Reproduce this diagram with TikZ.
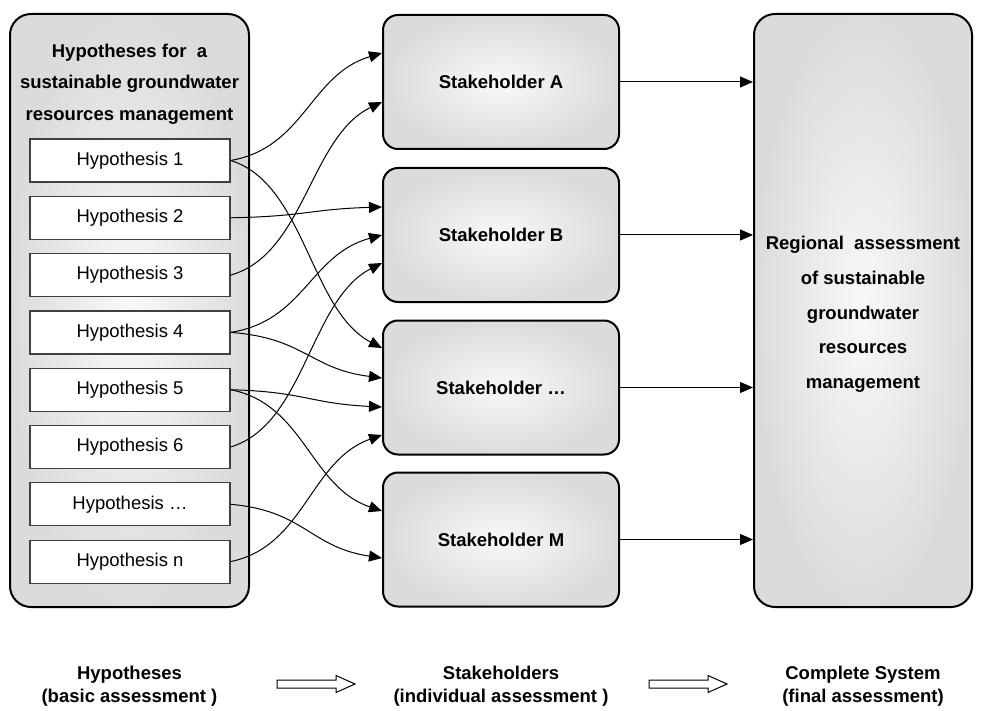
\documentclass[tikz,border=0pt]{standalone}
\usepackage{fontspec}
\setmainfont{Liberation Sans}
\usetikzlibrary{arrows.meta,calc}

% S-shaped connector from the east side of a hypothesis box to an entry point
\newcommand\linkcurve[2]{%
  \draw[link] let \p1=(#1.east), \p2=(#2) in
    (\p1) .. controls (\x1+74pt,{\y1+0.12*(\y2-\y1)})
             and (\x2-72pt,{\y2-0.2*(\y2-\y1)}) .. (\p2);}

\begin{document}
\begin{tikzpicture}[x=1pt,y=-1pt,
  panel/.style={draw=black, line width=2pt, inner color=gray!5, outer color=gray!28,
    minimum width=#1, inner sep=0pt},
  bigpanel/.style={panel=#1, rounded corners=21pt, minimum height=593pt},
  holder/.style={panel=236pt, rounded corners=15pt, minimum height=134pt,
    font=\bfseries\fontsize{18.5}{22}\selectfont},
  hypbox/.style={draw=black!75, line width=1.2pt, fill=white, minimum width=200pt,
    minimum height=43pt, inner sep=0pt, font=\fontsize{18.5}{22}\selectfont},
  link/.style={line width=1pt, -{Triangle[length=13pt,width=11pt]}},
  feed/.style={line width=1pt, -{Triangle[length=13pt,width=11pt]}},
  caption/.style={align=center, inner sep=0pt, font=\bfseries\fontsize{18.5}{23}\selectfont},
  hollow/.style={draw=black, line width=1pt, fill=white}
]
\useasboundingbox (0,0) rectangle (982,711);

% left column: hypotheses
\node[bigpanel=239pt] (H) at (129.5,310.5) {};
\node[align=center, inner sep=0pt, font=\bfseries\fontsize{18.5}{31.5}\selectfont]
  (Htitle) at (129.5,84) {Hypotheses for~ a\\sustainable groundwater\\resources management};
\foreach \i/\t in {1/1,2/2,3/3,4/4,5/5,6/6,7/…,8/n}
  \node[hypbox] (h\i) at (130,{160.5+57.3*(\i-1)}) {Hypothesis \t};

% middle column: stakeholders
\node[holder] (sA) at (501,82)    {Stakeholder A};
\node[holder] (sB) at (501,235)   {Stakeholder B};
\node[holder] (sC) at (501,387.5) {Stakeholder …};
\node[holder] (sM) at (501,539.5) {Stakeholder M};

% right column: complete system
\node[bigpanel=218pt] (R) at (863,310.5) {};
\node[align=center, inner sep=0pt, font=\bfseries\fontsize{18.5}{34.7}\selectfont]
  (Rtext) at (863,314.5) {Regional~ assessment\\of sustainable\\groundwater\\resources\\management};

% entry points on the stakeholder boxes
\coordinate (inA1) at ($(sA.west)+(0,-29)$);
\coordinate (inA2) at ($(sA.west)+(0,20)$);
\coordinate (inB1) at ($(sB.west)+(0,-28)$);
\coordinate (inB2) at ($(sB.west)+(0,0)$);
\coordinate (inB3) at ($(sB.west)+(0,28)$);
\coordinate (inC1) at ($(sC.west)+(0,-39.5)$);
\coordinate (inC2) at ($(sC.west)+(0,-9.5)$);
\coordinate (inC3) at ($(sC.west)+(0,19.5)$);
\coordinate (inC4) at ($(sC.west)+(0,47.5)$);
\coordinate (inM1) at ($(sM.west)+(0,-28.5)$);
\coordinate (inM2) at ($(sM.west)+(0,18.5)$);

% hypotheses to stakeholders
\linkcurve{h1}{inA1}
\linkcurve{h1}{inC1}
\linkcurve{h2}{inB1}
\linkcurve{h3}{inA2}
\linkcurve{h4}{inB2}
\linkcurve{h4}{inC2}
\linkcurve{h5}{inC3}
\linkcurve{h5}{inM1}
\linkcurve{h6}{inB3}
\linkcurve{h7}{inM2}
\linkcurve{h8}{inC4}

% stakeholders to the complete system
\foreach \s in {sA,sB,sC,sM}
  \draw[feed] (\s.east) -- (\s.east -| R.west);

% captions along the bottom
\node[caption] (c1) at (129.5,686.5) {Hypotheses\\(basic assessment )};
\node[caption] (c2) at (501,686.5)   {Stakeholders\\(individual assessment )};
\node[caption] (c3) at (863,686.5)   {Complete System\\(final assessment)};

% hollow block arrows between the captions
\foreach \x in {277,649}
  \draw[hollow] (\x,680) -- ++(59,0) -- ++(0,-4.5) -- ++(19,8.5) -- ++(-19,8.5)
    -- ++(0,-4.5) -- ++(-59,0) -- cycle;
\end{tikzpicture}
\end{document}
